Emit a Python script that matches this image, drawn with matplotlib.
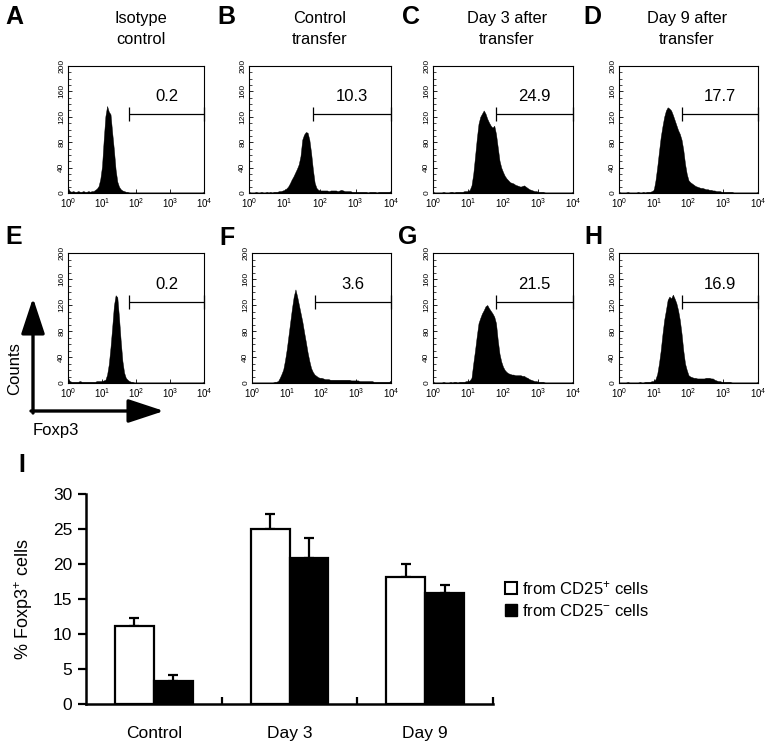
import numpy as np
import matplotlib
matplotlib.use('Agg')
import matplotlib.pyplot as plt
from matplotlib.patches import Patch
from matplotlib.ticker import LogLocator, NullFormatter, MultipleLocator

plt.rcParams['font.family'] = ['Liberation Sans', 'DejaVu Sans']
plt.rcParams['mathtext.fontset'] = 'custom'
plt.rcParams['mathtext.rm'] = 'Liberation Sans'
plt.rcParams['mathtext.it'] = 'Liberation Sans:italic'
plt.rcParams['mathtext.bf'] = 'Liberation Sans:bold'

# flow histograms: counts per channel, channel = log10(Foxp3 intensity)
log_channel = np.round(np.arange(0, 4.001, 0.05), 2)

counts_A = [8, 3, 2, 3, 2, 2, 3, 2, 2, 3, 2, 2, 3, 2, 3, 3, 5, 7, 11, 22,
            42, 84, 121, 137, 128, 124, 95, 68, 37, 18, 10, 6, 4, 3, 2, 2, 1, 1, 1, 1,
            1, 1, 1, 1, 1, 1, 1, 1, 1, 1, 1, 1, 1, 1, 1, 1, 1, 1, 1, 1,
            1, 1, 1, 1, 1, 1, 1, 1, 1, 1, 1, 1, 1, 1, 1, 1, 1, 1, 1, 1, 2]
counts_B = [2, 1, 1, 1, 2, 1, 1, 2, 1, 1, 2, 1, 2, 1, 2, 2, 2, 3, 3, 4,
            5, 7, 10, 15, 21, 26, 32, 38, 45, 58, 84, 92, 96, 95, 84, 63, 37, 16, 8, 5,
            4, 4, 4, 4, 4, 3, 4, 4, 4, 4, 3, 4, 5, 4, 3, 3, 3, 3, 2, 2,
            2, 2, 2, 2, 2, 2, 2, 1, 2, 2, 2, 2, 1, 2, 2, 2, 2, 2, 2, 2, 3]
counts_C = [2, 1, 1, 1, 1, 1, 2, 1, 1, 1, 2, 2, 1, 2, 2, 2, 2, 2, 3, 3,
            3, 5, 12, 30, 57, 85, 109, 120, 125, 130, 125, 117, 111, 106, 103, 106, 93, 72, 51, 40,
            33, 27, 23, 20, 17, 16, 15, 13, 12, 11, 10, 11, 12, 10, 8, 6, 5, 4, 3, 3,
            2, 2, 2, 2, 1, 1, 1, 1, 1, 1, 1, 1, 1, 1, 1, 1, 1, 1, 1, 1, 2]
counts_D = [2, 1, 1, 1, 1, 2, 1, 1, 1, 1, 1, 2, 1, 1, 2, 1, 2, 2, 2, 3,
            5, 20, 41, 65, 88, 105, 120, 130, 135, 133, 130, 123, 115, 107, 99, 93, 84, 68, 46, 30,
            20, 17, 15, 13, 11, 10, 9, 8, 8, 7, 6, 6, 5, 5, 4, 4, 3, 3, 3, 2,
            2, 2, 2, 2, 2, 2, 1, 1, 1, 1, 1, 1, 1, 1, 1, 1, 1, 1, 1, 1, 2]
counts_E = [8, 3, 2, 2, 2, 2, 2, 3, 2, 2, 2, 2, 2, 2, 2, 2, 2, 3, 3, 3,
            3, 4, 5, 13, 29, 55, 86, 119, 135, 132, 101, 65, 34, 16, 8, 5, 3, 2, 2, 1,
            1, 1, 1, 1, 1, 1, 1, 1, 1, 1, 1, 1, 1, 1, 1, 1, 1, 1, 1, 1,
            1, 1, 1, 1, 1, 1, 1, 1, 1, 1, 1, 1, 1, 1, 1, 1, 1, 1, 1, 1, 2]
counts_F = [1, 1, 1, 1, 1, 1, 1, 1, 1, 1, 1, 1, 1, 2, 2, 3, 8, 14, 21, 35,
            52, 73, 94, 115, 133, 144, 133, 120, 107, 94, 78, 63, 47, 34, 23, 17, 13, 11, 9, 8,
            8, 7, 6, 6, 6, 5, 5, 5, 5, 5, 5, 5, 5, 5, 5, 5, 5, 4, 4, 4,
            4, 4, 3, 3, 3, 3, 3, 3, 3, 3, 2, 2, 2, 2, 2, 2, 2, 2, 2, 2, 4]
counts_G = [2, 1, 1, 1, 1, 1, 2, 1, 1, 1, 2, 1, 2, 2, 1, 2, 2, 2, 2, 3,
            3, 4, 8, 30, 50, 72, 92, 100, 107, 112, 118, 120, 115, 111, 107, 102, 92, 66, 45, 33,
            25, 20, 17, 15, 14, 13, 13, 12, 12, 12, 12, 11, 11, 9, 8, 6, 5, 4, 3, 3,
            2, 2, 2, 2, 1, 1, 1, 1, 1, 1, 1, 1, 1, 1, 1, 1, 1, 1, 1, 1, 2]
counts_H = [1, 1, 1, 1, 1, 2, 1, 1, 1, 1, 1, 1, 2, 1, 1, 2, 2, 2, 2, 3,
            3, 6, 14, 30, 50, 75, 97, 112, 128, 133, 130, 136, 130, 123, 112, 97, 76, 50, 30, 20,
            12, 10, 9, 8, 8, 7, 7, 7, 7, 7, 8, 8, 8, 7, 7, 5, 4, 3, 3, 2,
            2, 2, 2, 2, 2, 1, 1, 1, 1, 1, 1, 1, 1, 1, 1, 1, 1, 1, 1, 1, 2]

gate_percent = ['0.2', '10.3', '24.9', '17.7', '0.2', '3.6', '21.5', '16.9']
panel_letters = ['A', 'B', 'C', 'D', 'E', 'F', 'G', 'H']
column_titles = ['Isotype\ncontrol', 'Control\ntransfer', 'Day 3 after\ntransfer', 'Day 9 after\ntransfer']

# bar chart
groups = ['Control', 'Day 3', 'Day 9']
cd25pos_mean = [11.1, 25.0, 18.2]
cd25pos_err = [1.2, 2.1, 1.8]
cd25neg_mean = [3.3, 20.9, 15.9]
cd25neg_err = [0.9, 2.8, 1.1]

W, H = 769, 746
fig = plt.figure(figsize=(W / 100, H / 100), dpi=100)


def px(l, t, r, b):
    return [l / W, 1 - b / H, (r - l) / W, (b - t) / H]


ov = fig.add_axes([0, 0, 1, 1])
ov.set_xlim(0, W)
ov.set_ylim(H, 0)
ov.axis('off')


def flow_panel(rect, counts, gate_text):
    ax = fig.add_axes(px(*rect))
    ax.fill_between(10 ** log_channel, counts, 0, color='black', lw=0.3)
    ax.set_xscale('log')
    ax.set_xlim(1, 1e4)
    ax.set_ylim(0, 200)
    ax.set_xticks([1, 10, 100, 1000, 10000])
    ax.set_xticklabels(['10$^{0}$', '10$^{1}$', '10$^{2}$', '10$^{3}$', '10$^{4}$'])
    ax.xaxis.set_minor_locator(LogLocator(base=10, subs=np.arange(2, 10)))
    ax.xaxis.set_minor_formatter(NullFormatter())
    ax.set_yticks([0, 40, 80, 120, 160, 200])
    ax.yaxis.set_minor_locator(MultipleLocator(10))
    for lab in ax.get_yticklabels():
        lab.set_rotation(90)
        lab.set_va('center')
    ax.tick_params(which='major', direction='in', length=3, width=0.6, pad=2)
    ax.tick_params(axis='x', labelsize=7)
    ax.tick_params(axis='y', labelsize=6)
    ax.tick_params(which='minor', direction='in', length=1.8, width=0.5)
    for s in ax.spines.values():
        s.set_linewidth(0.8)
    # gate marker
    ax.hlines(125, 10 ** 1.8, 1e4, color='black', lw=0.9)
    ax.vlines([10 ** 1.8, 1e4], 114, 136, color='black', lw=0.9, clip_on=False)
    ax.text(10 ** 2.9, 152, gate_text, ha='center', va='center', fontsize=12)
    return ax


top_cols = [(68, 204), (249, 391), (433, 573), (619, 758)]
bot_cols = [(68, 204), (252, 391), (433, 573), (619, 758)]
all_counts = [counts_A, counts_B, counts_C, counts_D, counts_E, counts_F, counts_G, counts_H]

for i in range(4):
    l, r = top_cols[i]
    flow_panel((l, 66, r, 193), all_counts[i], gate_percent[i])
for i in range(4):
    l, r = bot_cols[i]
    flow_panel((l, 253, r, 383), all_counts[i + 4], gate_percent[i + 4])

# panel letters and titles
letter_xy = [(14, 17), (226, 17), (411, 17), (592, 17),
             (14, 237), (227, 238), (408, 237), (593, 237)]
for (lx, ly), letter in zip(letter_xy, panel_letters):
    ov.text(lx, ly, letter, ha='center', va='center', fontsize=18, fontweight='bold')
title_x = [141, 320, 507, 687]
for tx, t in zip(title_x, column_titles):
    ov.text(tx, 29, t, ha='center', va='center', fontsize=11.8, linespacing=1.45)

# Counts / Foxp3 axis arrows
head = '-|>,head_length=1.0,head_width=0.33'
ov.annotate('', xy=(33, 298), xytext=(33, 413),
            arrowprops=dict(arrowstyle=head, lw=2.4, color='black',
                            shrinkA=0, shrinkB=0, mutation_scale=22))
ov.annotate('', xy=(164, 411), xytext=(31, 411),
            arrowprops=dict(arrowstyle=head, lw=2.4, color='black',
                            shrinkA=0, shrinkB=0, mutation_scale=22))
ov.text(15, 369, 'Counts', rotation=90, ha='center', va='center', fontsize=12)
ov.text(56, 430, 'Foxp3', ha='center', va='center', fontsize=12)

ov.text(22, 465, 'I', ha='center', va='center', fontsize=18, fontweight='bold')

# bar chart
bx = fig.add_axes(px(86, 494, 493, 704))
x = np.arange(len(groups))
w = 0.287
bx.bar(x - w, cd25pos_mean, w, align='edge', color='white', edgecolor='black', lw=1.6, zorder=2)
bx.bar(x, cd25neg_mean, w, align='edge', color='black', edgecolor='black', lw=1.6, zorder=2)
bx.errorbar(x - w / 2, cd25pos_mean, yerr=[np.zeros(len(groups)), cd25pos_err], fmt='none',
            ecolor='black', elinewidth=1.6, capsize=3.5, capthick=1.6, zorder=1)
bx.errorbar(x + w / 2, cd25neg_mean, yerr=[np.zeros(len(groups)), cd25neg_err], fmt='none',
            ecolor='black', elinewidth=1.6, capsize=3.5, capthick=1.6, zorder=1)
bx.set_xlim(-0.5, 2.5)
bx.set_ylim(0, 30)
bx.spines['top'].set_visible(False)
bx.spines['right'].set_visible(False)
bx.spines['left'].set_linewidth(1.8)
bx.spines['bottom'].set_linewidth(1.8)
bx.set_yticks(np.arange(0, 31, 5))
bx.tick_params(axis='y', direction='out', length=6, width=1.6, labelsize=12.5, pad=4)
bx.set_xticks(x)
bx.set_xticklabels(groups)
bx.tick_params(axis='x', which='major', length=0, pad=16, labelsize=12.5)
bx.set_xticks([0.5, 1.5, 2.5], minor=True)
bx.tick_params(axis='x', which='minor', direction='in', length=5, width=1.6)
bx.set_ylabel('% Foxp3$^{+}$ cells', fontsize=13)
bx.yaxis.set_label_coords((35 - 86) / 407, 0.5)

bx.legend(handles=[Patch(facecolor='white', edgecolor='black', lw=1.5),
                   Patch(facecolor='black', edgecolor='black')],
          labels=['from CD25$^{+}$ cells', 'from CD25$^{-}$ cells'],
          loc='upper left', bbox_to_anchor=(505 / W, 1 - 579 / H), bbox_transform=fig.transFigure,
          frameon=False, fontsize=12, handlelength=0.7, handleheight=0.7,
          handletextpad=0.3, labelspacing=0.35, borderpad=0, borderaxespad=0)

fig.savefig('out.png', dpi=100)
